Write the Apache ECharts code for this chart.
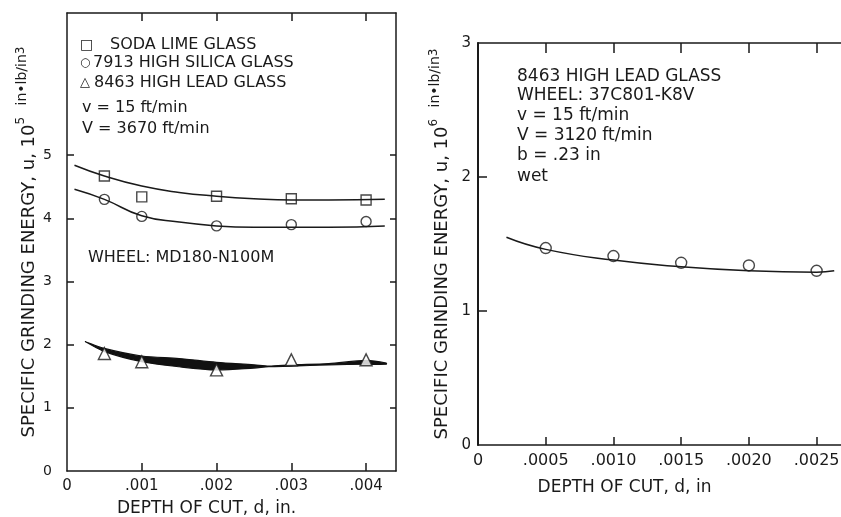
<!DOCTYPE html>
<html>
<head>
<meta charset="utf-8">
<script src="https://cdn.jsdelivr.net/npm/echarts@6/dist/echarts.min.js"></script>
<style>
  html, body { margin: 0; background: #fff; }
  #chart { width: 841px; height: 517px; }
</style>
</head>
<body>
<div id="chart"></div>
<script>
// left panel: three glasses, wheel MD180-N100M
var depthLeft = [0.0005, 0.001, 0.002, 0.003, 0.004];
var sodaLime = [4.67, 4.34, 4.35, 4.31, 4.29];
var highSilica = [4.30, 4.03, 3.88, 3.90, 3.95];
var highLead = [1.86, 1.73, 1.60, 1.76, 1.76];

// faired curves
var curveX = [0.0001, 0.0005, 0.001, 0.0015, 0.002, 0.0025, 0.003, 0.0035, 0.00425];
var sodaCurve = [4.84, 4.67, 4.51, 4.41, 4.35, 4.31, 4.29, 4.29, 4.30];
var silicaCurve = [4.46, 4.30, 4.04, 3.94, 3.88, 3.86, 3.86, 3.86, 3.88];

// lead glass is drawn as a black band: upper and lower edge
var bandX = [0.00024, 0.0005, 0.001, 0.0015, 0.002, 0.0025, 0.0027, 0.003, 0.0035, 0.004, 0.00427];
var bandTop = [2.05, 1.94, 1.82, 1.78, 1.72, 1.68, 1.66, 1.68, 1.70, 1.75, 1.71];
var bandBottom = [2.05, 1.89, 1.73, 1.65, 1.60, 1.63, 1.65, 1.66, 1.68, 1.69, 1.69];

// right panel: 8463 high lead glass, wheel 37C801-K8V
var depthRight = [0.0005, 0.0010, 0.0015, 0.0020, 0.0025];
var leadRight = [1.47, 1.41, 1.36, 1.34, 1.30];
var rightCurveX = [0.00021, 0.0005, 0.0010, 0.0015, 0.0020, 0.0025, 0.00263];
var rightCurve = [1.55, 1.46, 1.38, 1.33, 1.30, 1.29, 1.30];

// tick labels
var leftXTicks = [0, 0.001, 0.002, 0.003, 0.004];
var leftYTicks = [0, 1, 2, 3, 4, 5];
var rightXTicks = [0, 0.0005, 0.0010, 0.0015, 0.0020, 0.0025];
var rightYTicks = [0, 1, 2, 3];

var INK = '#1a1a1a';
var FONT = '"DejaVu Sans", sans-serif';

function pairs(xs, ys) {
  return xs.map(function (x, i) { return [x, ys[i]]; });
}

function depthLabel(digits) {
  return function (v) {
    return v === 0 ? '0' : v.toFixed(digits).replace(/^0/, '');
  };
}

function nameStyle(size) {
  return {
    color: INK,
    fontFamily: FONT,
    rich: {
      a: { fontSize: size, fontFamily: FONT, color: INK, lineHeight: 23, verticalAlign: 'bottom' },
      s: { fontSize: 12, fontFamily: FONT, color: INK, verticalAlign: 'top' },
      u: { fontSize: 14, fontFamily: FONT, color: INK, verticalAlign: 'top' }
    }
  };
}

var lineStyle = { color: INK, width: 1.5 };

function xAxisBottom(grid, max, ticks, digits, size, name, gap, shift) {
  return {
    gridIndex: grid, type: 'value', min: 0, max: max, position: 'bottom',
    axisLine: { onZero: false, lineStyle: lineStyle },
    axisTick: { inside: true, length: 8, lineStyle: lineStyle, customValues: ticks.slice(1) },
    axisLabel: { customValues: ticks, formatter: depthLabel(digits), color: INK, fontFamily: FONT, fontSize: size, margin: 8 },
    splitLine: { show: false },
    name: name, nameLocation: 'middle', nameGap: gap,
    nameTextStyle: { color: INK, fontFamily: FONT, fontSize: 17, padding: [0, shift, 0, 0] }
  };
}

function xAxisTop(grid, max, ticks, len) {
  return {
    gridIndex: grid, type: 'value', min: 0, max: max, position: 'top',
    axisLine: { onZero: false, lineStyle: lineStyle },
    axisTick: { inside: true, length: len, lineStyle: lineStyle, customValues: ticks.slice(1) },
    axisLabel: { show: false },
    splitLine: { show: false }
  };
}

var chart = echarts.init(document.getElementById('chart'));

var option = {
  backgroundColor: '#fff',
  animation: false,
  grid: [
    { left: 67, top: 13, right: 445, bottom: 46, outerBoundsMode: 'none' },
    { left: 478, top: 43, right: 0, bottom: 72, outerBoundsMode: 'none' }
  ],
  xAxis: [
    xAxisBottom(0, 0.0044, leftXTicks, 3, 15, 'DEPTH OF CUT, d, in.', 29, 50),
    xAxisTop(0, 0.0044, leftXTicks, 8),
    xAxisBottom(1, 0.00268, rightXTicks, 4, 16, 'DEPTH OF CUT, d, in', 34, 70),
    xAxisTop(1, 0.00268, rightXTicks, 10)
  ],
  yAxis: [
    {
      gridIndex: 0, type: 'value', min: 0, max: 7.25, position: 'left',
      axisLine: { onZero: false, lineStyle: lineStyle },
      axisTick: { inside: true, length: 7, lineStyle: lineStyle, customValues: leftYTicks.slice(1) },
      axisLabel: { customValues: leftYTicks, color: INK, fontFamily: FONT, fontSize: 14, margin: 15 },
      splitLine: { show: false },
      name: '{a|SPECIFIC GRINDING ENERGY, u, 10}{s|5}{a|  }{u|in\u2022lb/in}{s|3}',
      nameLocation: 'middle', nameRotate: 90, nameGap: 29,
      nameTextStyle: nameStyle(18)
    },
    {
      gridIndex: 0, type: 'value', min: 0, max: 7.25, position: 'right',
      axisLine: { onZero: false, lineStyle: lineStyle },
      axisTick: { inside: true, length: 6, lineStyle: lineStyle, customValues: leftYTicks.slice(1) },
      axisLabel: { show: false },
      splitLine: { show: false }
    },
    {
      gridIndex: 1, type: 'value', min: 0, max: 3, position: 'left',
      axisLine: { onZero: false, lineStyle: { color: INK, width: 2 } },
      axisTick: { inside: true, length: 9, lineStyle: lineStyle, customValues: [1, 2] },
      axisLabel: { customValues: rightYTicks, color: INK, fontFamily: FONT, fontSize: 15, margin: 7 },
      splitLine: { show: false },
      name: '{a|SPECIFIC GRINDING ENERGY, u, 10}{s|6}{a|  }{u|in\u2022lb/in}{s|3}',
      nameLocation: 'middle', nameRotate: 90, nameGap: 27,
      nameTextStyle: nameStyle(18)
    }
  ],
  graphic: [
    { type: 'text', left: 80, top: 38, style: { text: '\u25A1', font: '14px ' + FONT, fill: INK } },
    { type: 'text', left: 110, top: 37, style: { text: 'SODA LIME GLASS', font: '16px ' + FONT, fill: INK } },
    { type: 'text', left: 80, top: 57, style: { text: '\u25CB', font: '12px ' + FONT, fill: INK } },
    { type: 'text', left: 93, top: 55, style: { text: '7913 HIGH SILICA GLASS', font: '16px ' + FONT, fill: INK } },
    { type: 'text', left: 80, top: 76, style: { text: '\u25B3', font: '13px ' + FONT, fill: INK } },
    { type: 'text', left: 94, top: 75, style: { text: '8463 HIGH LEAD GLASS', font: '16px ' + FONT, fill: INK } },
    { type: 'text', left: 82, top: 100, style: { text: 'v = 15 ft/min', font: '16px ' + FONT, fill: INK } },
    { type: 'text', left: 82, top: 121, style: { text: 'V = 3670 ft/min', font: '16px ' + FONT, fill: INK } },
    { type: 'text', left: 88, top: 250, style: { text: 'WHEEL: MD180-N100M', font: '16px ' + FONT, fill: INK } },

    { type: 'text', left: 517, top: 68, style: { text: '8463 HIGH LEAD GLASS', font: '17px ' + FONT, fill: INK } },
    { type: 'text', left: 517, top: 87, style: { text: 'WHEEL: 37C801-K8V', font: '17px ' + FONT, fill: INK } },
    { type: 'text', left: 517, top: 107, style: { text: 'v = 15 ft/min', font: '17px ' + FONT, fill: INK } },
    { type: 'text', left: 517, top: 127, style: { text: 'V = 3120 ft/min', font: '17px ' + FONT, fill: INK } },
    { type: 'text', left: 517, top: 147, style: { text: 'b = .23 in', font: '17px ' + FONT, fill: INK } },
    { type: 'text', left: 517, top: 168, style: { text: 'wet', font: '17px ' + FONT, fill: INK } }
  ],
  series: [
    {
      name: 'soda lime curve', type: 'line', xAxisIndex: 0, yAxisIndex: 0,
      data: pairs(curveX, sodaCurve), smooth: true, symbol: 'none', lineStyle: lineStyle
    },
    {
      name: 'high silica curve', type: 'line', xAxisIndex: 0, yAxisIndex: 0,
      data: pairs(curveX, silicaCurve), smooth: true, symbol: 'none', lineStyle: lineStyle
    },
    {
      name: '8463 HIGH LEAD GLASS', type: 'scatter', xAxisIndex: 0, yAxisIndex: 0,
      data: pairs(depthLeft, highLead), symbol: 'triangle', symbolSize: 12,
      itemStyle: { color: '#fff', borderColor: INK, borderWidth: 1.4 }
    },
    {
      name: 'high lead band', type: 'custom', xAxisIndex: 0, yAxisIndex: 0,
      data: [[0, 0]],
      renderItem: function (params, api) {
        var pts = [];
        for (var i = 0; i < bandX.length; i++) pts.push(api.coord([bandX[i], bandTop[i]]));
        for (var j = bandX.length - 1; j >= 0; j--) pts.push(api.coord([bandX[j], bandBottom[j]]));
        return {
          type: 'polygon',
          shape: { points: pts, smooth: 0.3 },
          style: { fill: '#111', stroke: '#111', lineWidth: 1.2 }
        };
      }
    },
    {
      name: 'SODA LIME GLASS', type: 'scatter', xAxisIndex: 0, yAxisIndex: 0,
      data: pairs(depthLeft, sodaLime), symbol: 'rect', symbolSize: 10,
      itemStyle: { color: '#fff', borderColor: INK, borderWidth: 1.4 }
    },
    {
      name: '7913 HIGH SILICA GLASS', type: 'scatter', xAxisIndex: 0, yAxisIndex: 0,
      data: pairs(depthLeft, highSilica), symbol: 'circle', symbolSize: 10,
      itemStyle: { color: '#fff', borderColor: INK, borderWidth: 1.4 }
    },
    {
      name: 'right curve', type: 'line', xAxisIndex: 2, yAxisIndex: 2,
      data: pairs(rightCurveX, rightCurve), smooth: true, symbol: 'none', lineStyle: lineStyle
    },
    {
      name: '8463 right', type: 'scatter', xAxisIndex: 2, yAxisIndex: 2,
      data: pairs(depthRight, leadRight), symbol: 'circle', symbolSize: 11,
      itemStyle: { color: '#fff', borderColor: INK, borderWidth: 1.4 }
    }
  ]
};

chart.setOption(option);
</script>
</body>
</html>
